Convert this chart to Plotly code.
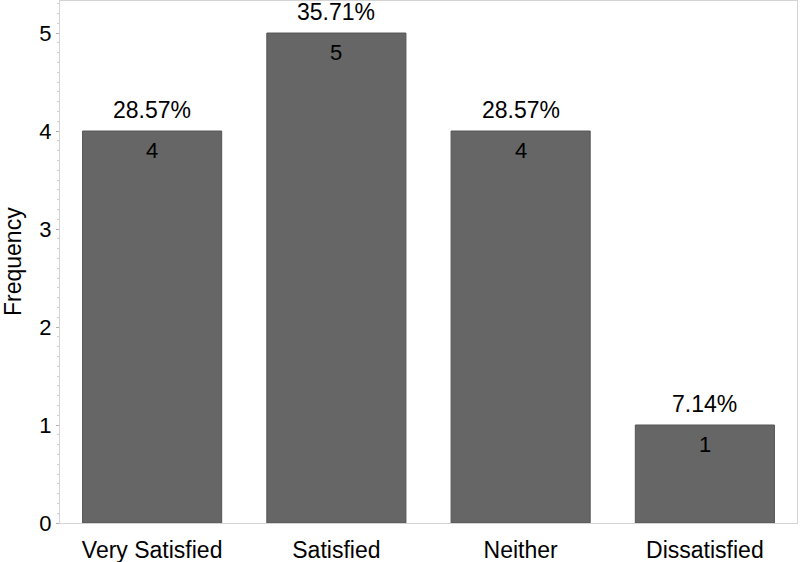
import plotly.graph_objects as go

categories = ["Very Satisfied", "Satisfied", "Neither", "Dissatisfied"]
counts = [4, 5, 4, 1]
y_ticks = [0, 1, 2, 3, 4, 5]

total = sum(counts)
pct_labels = [f"{c / total * 100:.2f}%" for c in counts]

fig = go.Figure()
fig.add_trace(go.Bar(
    x=categories, y=counts, width=0.755,
    marker=dict(color="#666666", line=dict(color="#555555", width=1)),
    hoverinfo="skip", showlegend=False,
))

font = dict(family="Liberation Sans, Arial, sans-serif", color="#000000")
for cat, c, p in zip(categories, counts, pct_labels):
    fig.add_annotation(x=cat, y=c, text=str(c), showarrow=False,
                       yanchor="middle", yshift=-19, font=dict(size=22, **font))
    fig.add_annotation(x=cat, y=c, text=p, showarrow=False,
                       yanchor="middle", yshift=21, font=dict(size=23, **font))

fig.add_annotation(x=0, xref="paper", y=0.5, yref="paper", xshift=-47,
                   text="Frequency", textangle=-90, showarrow=False,
                   xanchor="center", yanchor="middle", font=dict(size=23, **font))

fig.update_layout(
    width=800, height=562,
    margin=dict(l=60, r=3, t=1, b=39),
    paper_bgcolor="white", plot_bgcolor="white",
    font=dict(size=22, **font),
)
fig.update_xaxes(
    range=[-0.5, 3.5], showline=True, mirror=True, linecolor="#d4d4d4", linewidth=1,
    ticks="", tickfont=dict(size=23, **font), showgrid=False, automargin=False,
    ticklabelstandoff=6,
)
fig.update_yaxes(
    range=[0, 5.327], tickvals=y_ticks, showline=True, mirror=True,
    linecolor="#d4d4d4", linewidth=1, ticks="outside", ticklen=3, tickcolor="#b0b0b0",
    tickfont=dict(size=22, **font), showgrid=False, zeroline=False, automargin=False,
    minor=dict(dtick=0.1, ticks="outside", ticklen=2, tickcolor="#d0d0d0", showgrid=False),
)

fig.write_html("out.html", config={"displayModeBar": False},
               post_script="document.body.style.margin='0';document.body.style.overflow='hidden';")
